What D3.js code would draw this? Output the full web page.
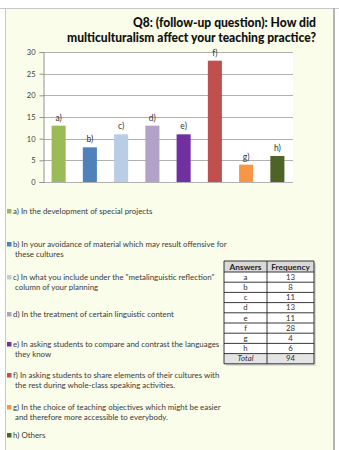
<!DOCTYPE html>
<html>
<head>
<meta charset="utf-8">
<script src="https://cdn.jsdelivr.net/npm/d3@7"></script>
<style>
  body { margin: 0; background: #fff; }
  svg { display: block; font-family: Lato, "Open Sans", sans-serif; }
</style>
</head>
<body>
<div id="chart"></div>
<script>
// data
const categories = ["a", "b", "c", "d", "e", "f", "g", "h"];
const frequencies = [13, 8, 11, 13, 11, 28, 4, 6];
const barLabels = ["a)", "b)", "c)", "d)", "e)", "f)", "g)", "h)"];
const barColors = ["#9bbb59", "#4f81bd", "#b9cde5", "#b3a2c7", "#7030a0", "#c0504d", "#f79646", "#4f6228"];
const yTicks = [0, 5, 10, 15, 20, 25, 30];
const titleLines = ["Q8: (follow-up question): How did", "multiculturalism affect your teaching practice?"];
const legendItems = [
    ["a) In the development of special projects"],
    ["b) In your avoidance of material which may result offensive for", "these cultures"],
    ["c) In what you include under the \"metalinguistic reflection\"", "column of your planning"],
    ["d) In the treatment of certain linguistic content"],
    ["e) In asking students to compare and contrast the languages", "they know"],
    ["f) In asking students to share elements of their cultures with", "the rest during whole-class speaking activities."],
    ["g) In the choice of teaching objectives which might be easier", "and therefore more accessible to everybody."],
    ["h) Others"]
];
const legendY = [214, 247, 280, 317, 347, 378, 410, 438];
const tableHeader = ["Answers", "Frequency"];
const totalLabel = "Total";
const total = 94;

const W = 339, H = 450;

let svg = d3.select("#chart").append("svg")
    .attr("width", W)
    .attr("height", H);

// panel
svg.append("rect")
    .attr("x", 5).attr("y", 8)
    .attr("width", 329).attr("height", H - 8)
    .attr("fill", "#f9fdea");
svg.append("line")
    .attr("x1", 0).attr("x2", W).attr("y1", 8.5).attr("y2", 8.5)
    .attr("stroke", "#c8c8c8");
svg.append("line")
    .attr("x1", 5.5).attr("x2", 5.5).attr("y1", 8).attr("y2", H)
    .attr("stroke", "#c8c8c8");
svg.append("line")
    .attr("x1", 334).attr("x2", 334).attr("y1", 8).attr("y2", H)
    .attr("stroke", "#b4b4b4").attr("stroke-width", 2);

// title
svg.append("g").selectAll("text")
    .data(titleLines)
    .join("text")
    .attr("x", 316)
    .attr("y", (d, i) => 27 + i * 14.5)
    .attr("text-anchor", "end")
    .attr("font-size", 12.5)
    .attr("font-weight", "900")
    .attr("fill", "#111")
    .attr("textLength", (d, i) => i == 0 ? 183 : 249)
    .attr("lengthAdjust", "spacingAndGlyphs")
    .text(d => d);

// plot area
let plot = {left: 43, right: 293, top: 52, bottom: 182};

let x = d3.scaleBand()
    .domain(categories)
    .range([plot.left, plot.right])
    .paddingInner(0.55)
    .paddingOuter(0.275);

let y = d3.scaleLinear()
    .domain([0, 30])
    .range([plot.bottom, plot.top]);

svg.append("rect")
    .attr("x", plot.left).attr("y", plot.top)
    .attr("width", plot.right - plot.left).attr("height", plot.bottom - plot.top)
    .attr("fill", "#ffffff");

// gridlines
svg.append("g")
    .selectAll("line")
    .data(yTicks)
    .join("line")
    .attr("x1", plot.left).attr("x2", plot.right)
    .attr("y1", d => Math.round(y(d)) + 0.5)
    .attr("y2", d => Math.round(y(d)) + 0.5)
    .attr("stroke", "#b0b0b0");

let yAxis = svg.append("g")
    .attr("transform", `translate(${plot.left + 0.5},0)`)
    .call(d3.axisLeft(y).tickValues(yTicks).tickSize(4).tickPadding(4));
yAxis.select(".domain").attr("stroke", "#909090");
yAxis.selectAll(".tick line").attr("stroke", "#909090");
yAxis.selectAll("text")
    .attr("font-size", 7.5)
    .attr("font-family", "Lato, sans-serif")
    .attr("fill", "#404040");

// bars
svg.append("g")
    .selectAll("rect")
    .data(frequencies)
    .join("rect")
    .attr("x", (d, i) => x(categories[i]))
    .attr("y", d => y(d))
    .attr("width", x.bandwidth())
    .attr("height", d => y(0) - y(d))
    .attr("fill", (d, i) => barColors[i]);

svg.append("g")
    .selectAll("text")
    .data(frequencies)
    .join("text")
    .attr("x", (d, i) => x(categories[i]) + x.bandwidth() / 2)
    .attr("y", d => y(d) - 5)
    .attr("text-anchor", "middle")
    .attr("font-size", 8.5)
    .attr("fill", "#333")
    .text((d, i) => barLabels[i]);

// legend
let legend = svg.append("g")
    .selectAll("g")
    .data(legendItems)
    .join("g")
    .attr("transform", (d, i) => `translate(0, ${legendY[i]})`);

legend.append("rect")
    .attr("x", 7).attr("y", -5)
    .attr("width", 4.5).attr("height", 4.5)
    .attr("fill", (d, i) => barColors[i]);

legend.selectAll("text")
    .data(d => d)
    .join("text")
    .attr("x", (d, i) => i == 0 ? 13 : 15)
    .attr("y", (d, i) => i * 9.5)
    .attr("font-size", 7.9)
    .attr("fill", "#3a3a3a")
    .text(d => d);

// frequency table
let tbl = {x0: 224, x1: 267, x2: 314, top: 261, headH: 11, rowH: 10.2};
let rows = categories.map((c, i) => [c, frequencies[i]]);
rows.push([totalLabel, total]);

let tableG = svg.append("g");
let tableBottom = tbl.top + tbl.headH + rows.length * tbl.rowH;

tableG.append("rect")
    .attr("x", tbl.x0 + 2).attr("y", tbl.top + 2)
    .attr("width", tbl.x2 - tbl.x0).attr("height", tableBottom - tbl.top)
    .attr("fill", "#d8d8d8");
tableG.append("rect")
    .attr("x", tbl.x0).attr("y", tbl.top)
    .attr("width", tbl.x2 - tbl.x0).attr("height", tableBottom - tbl.top)
    .attr("fill", "#ffffff");
tableG.append("rect")
    .attr("x", tbl.x0).attr("y", tbl.top)
    .attr("width", tbl.x2 - tbl.x0).attr("height", tbl.headH)
    .attr("fill", "#d9d9d9");
tableG.append("rect")
    .attr("x", tbl.x0).attr("y", tableBottom - tbl.rowH)
    .attr("width", tbl.x2 - tbl.x0).attr("height", tbl.rowH)
    .attr("fill", "#e4e4e4");

tableG.selectAll(".hline")
    .data(d3.range(rows.length + 2))
    .join("line")
    .attr("class", "hline")
    .attr("x1", tbl.x0).attr("x2", tbl.x2)
    .attr("y1", d => d == 0 ? tbl.top : tbl.top + tbl.headH + (d - 1) * tbl.rowH)
    .attr("y2", d => d == 0 ? tbl.top : tbl.top + tbl.headH + (d - 1) * tbl.rowH)
    .attr("stroke", "#222").attr("stroke-width", 0.9);
tableG.selectAll(".vline")
    .data([tbl.x0, tbl.x1, tbl.x2])
    .join("line")
    .attr("class", "vline")
    .attr("x1", d => d).attr("x2", d => d)
    .attr("y1", tbl.top).attr("y2", tableBottom)
    .attr("stroke", "#222").attr("stroke-width", 0.9);

tableG.selectAll(".head")
    .data(tableHeader)
    .join("text")
    .attr("class", "head")
    .attr("x", (d, i) => i == 0 ? (tbl.x0 + tbl.x1) / 2 : (tbl.x1 + tbl.x2) / 2)
    .attr("y", tbl.top + 8.5)
    .attr("text-anchor", "middle")
    .attr("font-size", 8.3)
    .attr("font-weight", "bold")
    .attr("fill", "#222")
    .text(d => d);

let rowG = tableG.selectAll(".row")
    .data(rows)
    .join("g")
    .attr("class", "row")
    .attr("transform", (d, i) => `translate(0, ${tbl.top + tbl.headH + i * tbl.rowH + 7.8})`);

rowG.selectAll("text")
    .data(d => d)
    .join("text")
    .attr("x", (d, i) => i == 0 ? (tbl.x0 + tbl.x1) / 2 : (tbl.x1 + tbl.x2) / 2)
    .attr("text-anchor", "middle")
    .attr("font-size", 7.8)
    .attr("font-style", d => d === totalLabel ? "italic" : "normal")
    .attr("fill", "#333")
    .text(d => d);
</script>
</body>
</html>
